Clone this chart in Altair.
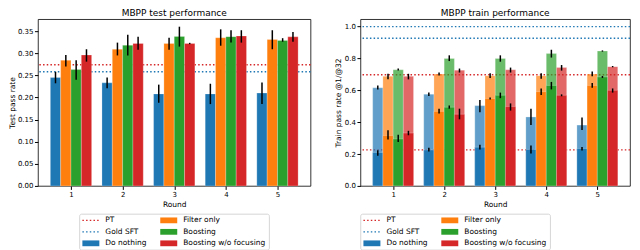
import altair as alt
import pandas as pd

rounds = [1, 2, 3, 4, 5]
methods = ["Do nothing", "Filter only", "Boosting", "Boosting w/o focusing"]
colors = ["#1f77b4", "#ff7f0e", "#2ca02c", "#d62728"]

# ---- test performance (left) ----
test_do_nothing = [0.245, 0.233, 0.208, 0.208, 0.210]
test_do_nothing_lo = [0.232, 0.221, 0.188, 0.185, 0.185]
test_do_nothing_hi = [0.258, 0.245, 0.229, 0.231, 0.234]
test_filter = [0.284, 0.309, 0.322, 0.335, 0.331]
test_filter_lo = [0.270, 0.295, 0.308, 0.317, 0.309]
test_filter_hi = [0.296, 0.324, 0.335, 0.354, 0.352]
test_boost = [0.263, 0.318, 0.338, 0.3375, 0.329]
test_boost_lo = [0.240, 0.295, 0.315, 0.324, 0.326]
test_boost_hi = [0.284, 0.342, 0.360, 0.352, 0.334]
test_nofocus = [0.296, 0.322, 0.322, 0.339, 0.337]
test_nofocus_lo = [0.281, 0.308, 0.3205, 0.324, 0.326]
test_nofocus_hi = [0.309, 0.337, 0.3235, 0.352, 0.348]
test_pt = [0.274]
test_gold = [0.258]

# ---- train performance (right): pass@32 (light) and pass@1 (dark) ----
tr32_do_nothing = [0.616, 0.576, 0.504, 0.433, 0.382]
tr32_do_nothing_lo = [0.606, 0.565, 0.463, 0.382, 0.351]
tr32_do_nothing_hi = [0.630, 0.586, 0.539, 0.484, 0.429]
tr32_filter = [0.688, 0.702, 0.692, 0.692, 0.702]
tr32_filter_lo = [0.669, 0.694, 0.678, 0.673, 0.688]
tr32_filter_hi = [0.704, 0.712, 0.708, 0.708, 0.718]
tr32_boost = [0.729, 0.800, 0.800, 0.831, 0.847]
tr32_boost_lo = [0.724, 0.784, 0.780, 0.806, 0.843]
tr32_boost_hi = [0.737, 0.820, 0.820, 0.855, 0.851]
tr32_nofocus = [0.688, 0.727, 0.729, 0.743, 0.749]
tr32_nofocus_lo = [0.669, 0.712, 0.712, 0.724, 0.745]
tr32_nofocus_hi = [0.704, 0.737, 0.743, 0.759, 0.753]

tr1_do_nothing = [0.210, 0.226, 0.243, 0.229, 0.235]
tr1_do_nothing_lo = [0.190, 0.216, 0.229, 0.204, 0.222]
tr1_do_nothing_hi = [0.224, 0.240, 0.259, 0.253, 0.245]
tr1_filter = [0.316, 0.468, 0.549, 0.592, 0.631]
tr1_filter_lo = [0.291, 0.454, 0.543, 0.571, 0.616]
tr1_filter_hi = [0.349, 0.485, 0.555, 0.612, 0.647]
tr1_boost = [0.295, 0.494, 0.569, 0.631, 0.684]
tr1_boost_lo = [0.275, 0.485, 0.551, 0.606, 0.678]
tr1_boost_hi = [0.321, 0.505, 0.586, 0.653, 0.690]
tr1_nofocus = [0.332, 0.450, 0.498, 0.569, 0.600]
tr1_nofocus_lo = [0.318, 0.418, 0.473, 0.563, 0.586]
tr1_nofocus_hi = [0.346, 0.485, 0.518, 0.575, 0.612]

train_pt = [0.698, 0.226]
train_gold = [1.0, 0.927]

legend_names = ["PT", "Gold SFT", "Do nothing", "Filter only", "Boosting", "Boosting w/o focusing"]
legend_colors = ["#d62728", "#1f77b4", "#1f77b4", "#ff7f0e", "#2ca02c", "#d62728"]
legend_kinds = ["line", "line", "patch", "patch", "patch", "patch"]

FONT = "DejaVu Sans"


def long_table(series):
    rows = []
    for idx, (m, (v, lo, hi)) in enumerate(zip(methods, series)):
        for r, a, b, c in zip(rounds, v, lo, hi):
            rows.append({"round": r, "method": m, "idx": idx, "value": a, "lo": b, "hi": c})
    return pd.DataFrame(rows)


test_df = long_table([
    (test_do_nothing, test_do_nothing_lo, test_do_nothing_hi),
    (test_filter, test_filter_lo, test_filter_hi),
    (test_boost, test_boost_lo, test_boost_hi),
    (test_nofocus, test_nofocus_lo, test_nofocus_hi),
])
tr32_df = long_table([
    (tr32_do_nothing, tr32_do_nothing_lo, tr32_do_nothing_hi),
    (tr32_filter, tr32_filter_lo, tr32_filter_hi),
    (tr32_boost, tr32_boost_lo, tr32_boost_hi),
    (tr32_nofocus, tr32_nofocus_lo, tr32_nofocus_hi),
])
tr1_df = long_table([
    (tr1_do_nothing, tr1_do_nothing_lo, tr1_do_nothing_hi),
    (tr1_filter, tr1_filter_lo, tr1_filter_hi),
    (tr1_boost, tr1_boost_lo, tr1_boost_hi),
    (tr1_nofocus, tr1_nofocus_lo, tr1_nofocus_hi),
])

xscale = alt.Scale(domain=[0.36, 5.64], nice=False, zero=False)
color_scale = alt.Scale(domain=methods, range=colors)
box_view = alt.ViewBackground(stroke="#000000", strokeWidth=0.8)
XAXIS = alt.Axis(values=rounds, title="Round", format="d", grid=False, titlePadding=3)


def bar_layers(df, yscale, yaxis, opacity):
    base = alt.Chart(df).transform_calculate(
        xc="datum.round + (datum.idx - 1.5) * 0.2",
        x0="datum.round + (datum.idx - 1.5) * 0.2 - 0.1",
        x1="datum.round + (datum.idx - 1.5) * 0.2 + 0.1",
        base0="0",
    )
    bars = base.mark_bar(opacity=opacity, stroke="white", strokeWidth=0.4, strokeOpacity=0.6).encode(
        x=alt.X("x0:Q", scale=xscale, axis=XAXIS),
        x2="x1:Q",
        y=alt.Y("value:Q", scale=yscale, axis=yaxis),
        y2="base0:Q",
        color=alt.Color("method:N", scale=color_scale, legend=None),
    )
    errs = base.mark_rule(color="black", strokeWidth=1.5).encode(
        x=alt.X("xc:Q", scale=xscale, axis=XAXIS),
        y=alt.Y("lo:Q", scale=yscale, axis=yaxis),
        y2="hi:Q",
    )
    return bars, errs


def hlines(values, color, yscale, yaxis):
    return alt.Chart(pd.DataFrame({"v": values})).mark_rule(
        color=color, strokeDash=[1.5, 2.2], strokeWidth=1.4
    ).encode(y=alt.Y("v:Q", scale=yscale, axis=yaxis))


# left panel
yl = alt.Scale(domain=[0, 0.377], nice=False, zero=True)
yl_axis = alt.Axis(values=[0, 0.05, 0.1, 0.15, 0.2, 0.25, 0.3, 0.35], format=".2f",
                   title="Test pass rate", grid=False, titlePadding=1)
bl, el = bar_layers(test_df, yl, yl_axis, 1.0)
left = alt.layer(
    hlines(test_pt, "#d62728", yl, yl_axis),
    hlines(test_gold, "#1f77b4", yl, yl_axis),
    bl, el,
).properties(width=273, height=167, title="MBPP test performance", view=box_view)

# right panel
yr = alt.Scale(domain=[0, 1.047], nice=False, zero=True)
yr_axis = alt.Axis(values=[0, 0.2, 0.4, 0.6, 0.8, 1.0], format=".1f",
                   title="Train pass rate @1/@32", grid=False, titlePadding=2)
b32, e32 = bar_layers(tr32_df, yr, yr_axis, 0.7)
b1, e1 = bar_layers(tr1_df, yr, yr_axis, 1.0)
right = alt.layer(
    hlines(train_pt, "#d62728", yr, yr_axis),
    hlines(train_gold, "#1f77b4", yr, yr_axis),
    b32, b1, e32, e1,
).properties(width=270, height=167, title="MBPP train performance", view=box_view)


# legends
leg_df = pd.DataFrame({
    "name": legend_names,
    "col": legend_colors,
    "kind": legend_kinds,
    "i": list(range(len(legend_names))),
})
LW, LH = 190, 36
lx = alt.Scale(domain=[0, LW], nice=False, zero=False)
ly = alt.Scale(domain=[0, LH], nice=False, zero=False, reverse=True)


def legend_chart():
    base = alt.Chart(leg_df).transform_calculate(
        c="floor(datum.i / 3)",
        r="datum.i % 3",
    ).transform_calculate(
        sx0="3 + datum.c * 78",
        sx1="3 + datum.c * 78 + 17",
        tx="3 + datum.c * 78 + 23",
        yc="6.5 + datum.r * 11.5",
        ya="6.5 + datum.r * 11.5 - 2.9",
        yb="6.5 + datum.r * 11.5 + 2.9",
    )
    lines = base.transform_filter("datum.kind == 'line'").mark_rule(
        strokeDash=[1.5, 2.2], strokeWidth=1.4
    ).encode(
        x=alt.X("sx0:Q", scale=lx, axis=None), x2="sx1:Q",
        y=alt.Y("yc:Q", scale=ly, axis=None),
        color=alt.Color("col:N", scale=None),
    )
    patches = base.transform_filter("datum.kind == 'patch'").mark_rect().encode(
        x=alt.X("sx0:Q", scale=lx, axis=None), x2="sx1:Q",
        y=alt.Y("ya:Q", scale=ly, axis=None), y2="yb:Q",
        color=alt.Color("col:N", scale=None),
    )
    texts = base.mark_text(align="left", baseline="middle", fontSize=7.5, font=FONT, color="#000").encode(
        x=alt.X("tx:Q", scale=lx, axis=None),
        y=alt.Y("yc:Q", scale=ly, axis=None),
        text="name:N",
    )
    return alt.layer(lines, patches, texts).properties(
        width=LW, height=LH,
        view=alt.ViewBackground(stroke="#cccccc", strokeWidth=0.8, cornerRadius=2),
    )


chart = alt.concat(
    left, right, legend_chart(), legend_chart(),
    columns=2, spacing={"row": 28, "column": 50}, bounds="flush", center=True,
).properties(
    padding=0,
).configure_axis(
    labelFont=FONT, titleFont=FONT, labelFontSize=7, titleFontSize=7.5,
    titleFontWeight="normal", tickColor="#000", tickSize=3.5, domain=False,
    labelColor="#000", titleColor="#000", labelPadding=1.5,
).configure_title(
    font=FONT, fontSize=9, fontWeight="normal", offset=1, color="#000",
).configure_view(
    stroke="#000",
)

chart.save("out.html", embed_options={"renderer": "svg", "actions": False})
